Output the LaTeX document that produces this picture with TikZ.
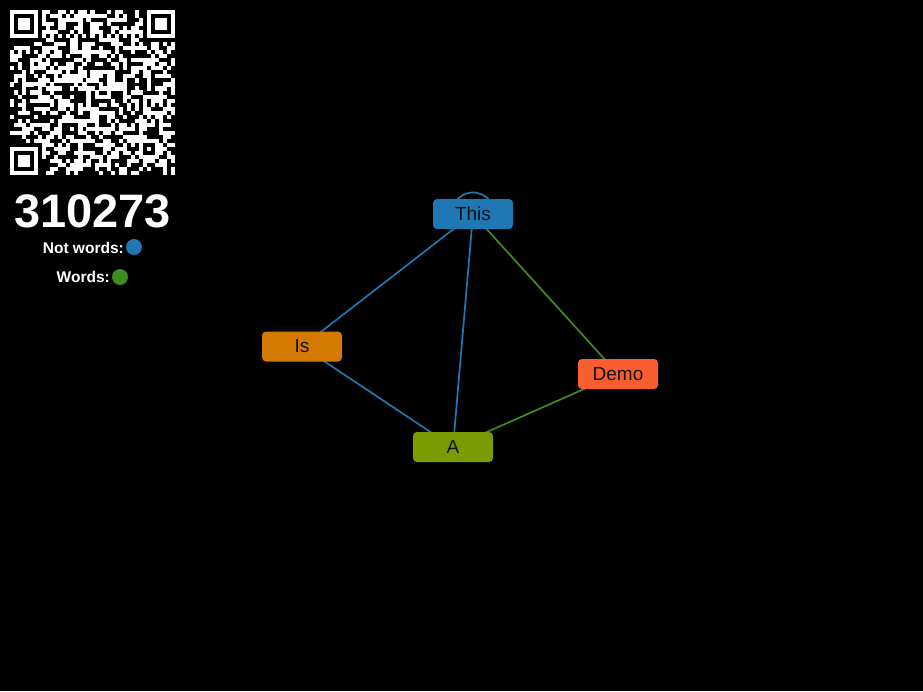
\documentclass[tikz,border=0pt]{standalone}
\usepackage{fontspec}
\setmainfont{Liberation Sans}
\definecolor{edgeblue}{HTML}{1F77B4}
\definecolor{edgegreen}{HTML}{3D8C1F}
\definecolor{thiscol}{HTML}{1F77B4}
\definecolor{iscol}{HTML}{D57A00}
\definecolor{acol}{HTML}{7A9C00}
\definecolor{democol}{HTML}{FA5E2E}
\definecolor{textdark}{HTML}{111111}
\pgfdeclarelayer{bg}
\pgfdeclarelayer{edges}
\pgfsetlayers{bg,edges,main}
\tikzset{
  gnode/.style={rounded corners=4pt, minimum width=80pt, minimum height=30pt,
    inner sep=0pt, font=\fontsize{19}{19}\selectfont, text=textdark},
  bluelink/.style={draw=edgeblue, line width=1.7pt},
  greenlink/.style={draw=edgegreen, line width=1.7pt},
  legendtext/.style={font=\bfseries\fontsize{15.5}{16}\selectfont, text=white, inner sep=0pt},
  legenddot/.style={circle, inner sep=0pt, minimum size=16pt},
  qrcell/.style={fill=white}
}
\begin{document}
\begin{tikzpicture}[x=1pt,y=-1pt]
\begin{pgfonlayer}{bg}
\fill[black] (0,0) rectangle (923,691);
\end{pgfonlayer}
\useasboundingbox (0,0) rectangle (923,691);

% QR code (approximation), 41x41 modules
\begin{scope}[shift={(10,10)}, x=4.024pt, y=-4.024pt]
  \pgfmathsetseed{310273}
  \foreach \i in {0,...,40}{
    \foreach \j in {0,...,40}{
      \pgfmathrandominteger{\r}{0}{1}
      \ifnum\r=1 \fill[qrcell] (\i,\j) rectangle ++(1.02,1.02); \fi
    }
  }
  % timing patterns
  \foreach \k in {8,...,32}{
    \fill[black] (\k,6) rectangle ++(1,1);
    \fill[black] (6,\k) rectangle ++(1,1);
    \ifodd\k\relax\else
      \fill[qrcell] (\k,6) rectangle ++(1,1);
      \fill[qrcell] (6,\k) rectangle ++(1,1);
    \fi
  }
  % finder patterns
  \foreach \a/\b in {0/0,34/0,0/34}{
    \fill[black] (\a-1,\b-1) rectangle ++(9,9);
    \fill[qrcell] (\a,\b) rectangle ++(7,7);
    \fill[black] (\a+1,\b+1) rectangle ++(5,5);
    \fill[qrcell] (\a+2,\b+2) rectangle ++(3,3);
  }
  % alignment pattern
  \fill[qrcell] (32,32) rectangle ++(5,5);
  \fill[black] (33,33) rectangle ++(3,3);
  \fill[qrcell] (34,34) rectangle ++(1,1);
  \fill[qrcell] (8,33) rectangle ++(1,1);
\end{scope}

% number and legend
\node[font=\bfseries\fontsize{47}{47}\selectfont, text=white, inner sep=0pt] (num) at (92.5,211) {310273};
\node[legendtext, anchor=east] (nw) at (124,248) {Not words:};
\node[legenddot, fill=edgeblue] (nwdot) at (134,247) {};
\node[legendtext, anchor=east] (w) at (110,277) {Words:};
\node[legenddot, fill=edgegreen] (wdot) at (120,277) {};

% graph nodes
\node[gnode, fill=thiscol] (This) at (473,214) {This};
\node[gnode, fill=iscol] (Is) at (302,346.5) {Is};
\node[gnode, fill=acol] (A) at (453,447) {A};
\node[gnode, fill=democol] (Demo) at (618,374) {Demo};

\begin{pgfonlayer}{edges}
  \draw[bluelink] (This.center) ++(35:21.5pt) arc[start angle=35, end angle=145, radius=21.5pt];
  \draw[bluelink] (This.center) -- (Is.center);
  \draw[bluelink] (This.center) -- (A.center);
  \draw[bluelink] (Is.center) -- (A.center);
  \draw[greenlink] (This.center) -- (Demo.center);
  \draw[greenlink] (A.center) -- (Demo.center);
\end{pgfonlayer}
\end{tikzpicture}
\end{document}
